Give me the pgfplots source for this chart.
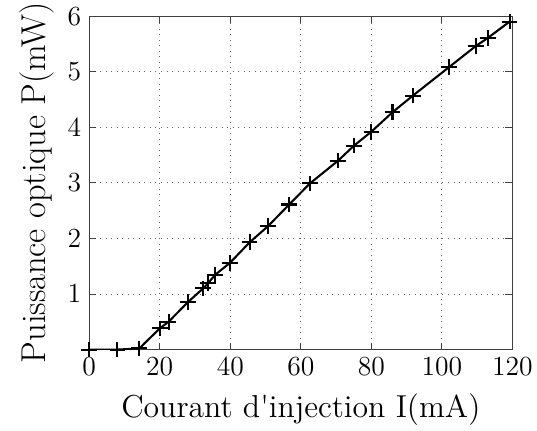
\documentclass[border=0pt]{standalone}
\usepackage{fontspec}
\usepackage{pgfplots}
\pgfplotsset{compat=1.18}
\begin{document}
\begin{tikzpicture}
\begin{axis}[
  name=ax,
  scale only axis,
  width=184pt, height=145pt,
  xmin=0, xmax=120, ymin=0, ymax=6,
  xtick={0,20,...,120},
  ytick={1,2,3,4,5,6},
  tick align=inside,
  tick pos=both,
  xticklabel pos=left,
  yticklabel pos=left,
  major tick length=3pt,
  axis line style={black!75, line width=0.5pt},
  tick style={black!75, line width=0.4pt},
  grid=major,
  grid style={dotted, black!60, line width=0.4pt},
  ticklabel style={font=\fontsize{11.5}{13}\selectfont},
  xlabel={Courant d\textquotesingle injection I(mA)},
  ylabel={Puissance optique P(mW)},
  xlabel style={font=\fontsize{13.8}{16}\selectfont, yshift=-1pt},
  ylabel style={font=\fontsize{15}{17}\selectfont, yshift=-1pt},
]
\addplot[black, line width=0.9pt, mark=+, mark size=3.4pt, mark options={line width=0.9pt}] coordinates {
(0,0) (8.0,0) (14.2,0.02) (20.0,0.38) (22.5,0.50) (28.1,0.86) (32.3,1.10)
(33.7,1.19) (35.6,1.34) (39.9,1.56) (45.5,1.93) (50.7,2.22) (56.7,2.61)
(62.6,2.99) (70.6,3.40) (75.1,3.67) (80.0,3.92) (86.0,4.27) (91.8,4.57)
(102.0,5.08) (109.6,5.46) (113.1,5.61) (119.2,5.90)
};
\end{axis}
\pgfresetboundingbox
\path[use as bounding box] ([shift={(-38.8pt,-35.1pt)}]ax.south west) rectangle ([shift={(194.7pt,152pt)}]ax.south west);
\end{tikzpicture}
\end{document}
